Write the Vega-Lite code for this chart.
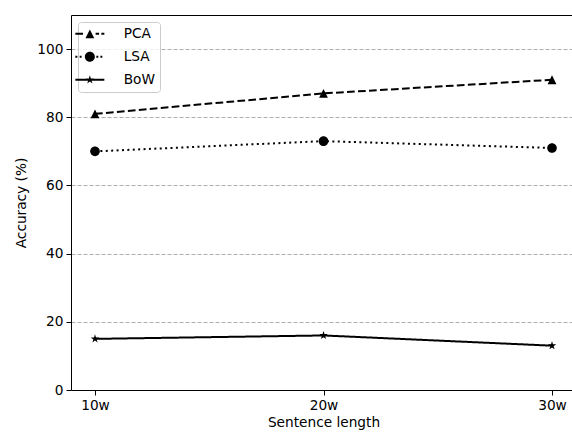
{
  "$schema": "https://vega.github.io/schema/vega-lite/v6.json",
  "width": 501,
  "height": 375,
  "autosize": {"type": "none"},
  "padding": {"left": 71, "top": 15, "right": 0, "bottom": 42},
  "background": "white",
  "config": {
    "font": "DejaVu Sans",
    "view": {"stroke": null},
    "axis": {
      "labelFont": "DejaVu Sans",
      "labelFontSize": 13.7,
      "labelColor": "black",
      "titleFont": "DejaVu Sans",
      "titleFontSize": 13.7,
      "titleFontWeight": "normal",
      "titleColor": "black",
      "tickColor": "black",
      "tickSize": 5,
      "domainColor": "black",
      "labelPadding": 3
    }
  },
  "data": {
    "values": [
      {"method": "PCA", "length": "10w", "accuracy": 81},
      {"method": "PCA", "length": "20w", "accuracy": 87},
      {"method": "PCA", "length": "30w", "accuracy": 91},
      {"method": "LSA", "length": "10w", "accuracy": 70},
      {"method": "LSA", "length": "20w", "accuracy": 73},
      {"method": "LSA", "length": "30w", "accuracy": 71},
      {"method": "BoW", "length": "10w", "accuracy": 15},
      {"method": "BoW", "length": "20w", "accuracy": 16},
      {"method": "BoW", "length": "30w", "accuracy": 13}
    ]
  },
  "encoding": {
    "x": {
      "field": "length",
      "type": "ordinal",
      "sort": ["10w", "20w", "30w"],
      "scale": {"type": "point", "padding": 0.105, "range": [0, 505]},
      "axis": {"title": "Sentence length", "labelAngle": 0, "grid": false, "domain": false, "titlePadding": 4}
    },
    "y": {
      "field": "accuracy",
      "type": "quantitative",
      "scale": {"domain": [0, 110], "nice": false, "zero": false},
      "axis": {
        "title": "Accuracy (%)",
        "values": [0, 20, 40, 60, 80, 100, 110],
        "labelExpr": "datum.value == 110 ? '' : datum.label",
        "tickOpacity": {"condition": {"test": "datum.value == 110", "value": 0}, "value": 1},
        "grid": true,
        "gridColor": {"condition": {"test": "datum.value == 0 || datum.value == 110", "value": "black"}, "value": "#9a9a9a"},
        "gridDash": {"condition": {"test": "datum.value == 0 || datum.value == 110", "value": []}, "value": [4, 2]},
        "gridWidth": {"condition": {"test": "datum.value == 0 || datum.value == 110", "value": 1}, "value": 0.8},
        "gridOpacity": 1,
        "domain": true,
        "titlePadding": 8
      }
    }
  },
  "layer": [
    {
      "mark": {"type": "line", "color": "black", "strokeWidth": 2, "strokeCap": "butt"},
      "encoding": {
        "strokeDash": {
          "field": "method",
          "type": "nominal",
          "scale": {"domain": ["PCA", "LSA", "BoW"], "range": [[7.7, 3.3], [2, 3.4], [1, 0]]},
          "legend": null
        }
      }
    },
    {
      "mark": {"type": "point", "filled": true, "color": "black", "opacity": 1, "size": 100, "strokeWidth": 0},
      "encoding": {
        "shape": {
          "field": "method",
          "type": "nominal",
          "scale": {
            "domain": ["PCA", "LSA", "BoW"],
            "range": [
              "M0,-0.88 L0.88,0.88 L-0.88,0.88 Z",
              "M-0.96,0 A0.96,0.96 0 1,1 0.96,0 A0.96,0.96 0 1,1 -0.96,0 Z",
              "M0,-0.9 L0.202,-0.278 L0.856,-0.278 L0.327,0.106 L0.529,0.728 L0,0.344 L-0.529,0.728 L-0.327,0.106 L-0.856,-0.278 L-0.202,-0.278 Z"
            ]
          },
          "legend": null
        }
      }
    },
    {
      "mark": {"type": "point", "filled": true, "color": "black", "opacity": 0, "size": 169, "strokeWidth": 0},
      "encoding": {
        "shape": {
          "field": "method",
          "type": "nominal",
          "scale": {
            "domain": ["PCA", "LSA", "BoW"],
            "range": [
              "M-2.23,-0.154 L-1.05,-0.154 L-1.05,0.154 L-2.23,0.154 Z M0.89,-0.154 L1.42,-0.154 L1.42,0.154 L0.89,0.154 Z M1.77,-0.154 L2.23,-0.154 L2.23,0.154 L1.77,0.154 Z M0,-0.677 L0.677,0.677 L-0.677,0.677 Z",
              "M-2.23,-0.154 L-1.92,-0.154 L-1.92,0.154 L-2.23,0.154 Z M-1.57,-0.154 L-1.27,-0.154 L-1.27,0.154 L-1.57,0.154 Z M1.0,-0.154 L1.3,-0.154 L1.3,0.154 L1.0,0.154 Z M1.62,-0.154 L1.92,-0.154 L1.92,0.154 L1.62,0.154 Z M-0.77,0 A0.77,0.77 0 1,1 0.77,0 A0.77,0.77 0 1,1 -0.77,0 Z",
              "M-2.23,-0.154 L2.23,-0.154 L2.23,0.154 L-2.23,0.154 Z M0,-0.69 L0.155,-0.213 L0.656,-0.213 L0.251,0.082 L0.406,0.558 L0,0.264 L-0.406,0.558 L-0.251,0.082 L-0.656,-0.213 L-0.155,-0.213 Z"
            ]
          },
          "legend": {
            "title": null,
            "orient": "top-left",
            "offset": 7,
            "symbolSize": 169,
            "symbolOpacity": 1,
            "symbolFillColor": "black",
            "symbolStrokeWidth": 0,
            "labelFont": "DejaVu Sans",
            "labelFontSize": 13.7,
            "labelColor": "black",
            "labelOffset": 27,
            "padding": 5,
            "rowPadding": 8,
            "fillColor": "rgba(255,255,255,0.8)",
            "strokeColor": "#cccccc",
            "cornerRadius": 3
          }
        }
      }
    }
  ],
  "resolve": {"scale": {"shape": "independent"}}
}
